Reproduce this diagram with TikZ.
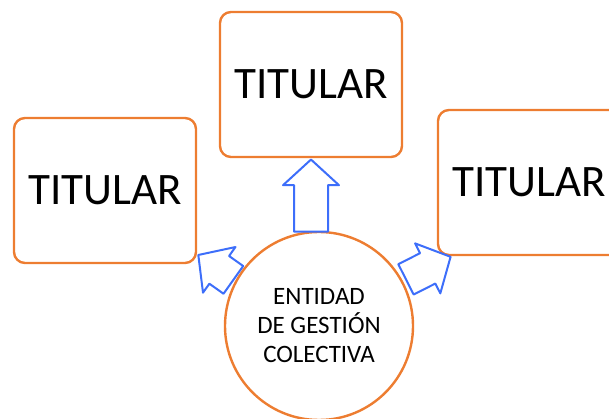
\documentclass[tikz,border=0pt]{standalone}
\usepackage{fontspec}
\setmainfont{Carlito}
\usetikzlibrary{positioning}
\usetikzlibrary{shapes.arrows}
\usetikzlibrary{calc}
\definecolor{naranja}{RGB}{237,125,49}
\definecolor{azul}{RGB}{61,110,250}

\begin{document}
\begin{tikzpicture}[x=1pt,y=1pt,line join=round,
  titular/.style={draw=naranja,line width=2.4pt,rounded corners=11pt,minimum width=182pt,minimum height=145pt,inner sep=0pt,font=\fontsize{45}{54}\selectfont},
  entidad/.style={draw=naranja,line width=2.4pt,circle,minimum size=188pt,inner sep=0pt,align=center,font=\fontsize{25}{29}\selectfont},
  flecha/.style={draw=azul,line width=2pt,fill=white,single arrow,single arrow head extend=11pt,single arrow tip angle=95,inner xsep=0pt,inner ysep=16pt,minimum width=0pt,anchor=tip}]
\clip (0,0) rectangle (609,419);
\node[entidad] (entidad) at (319,93) {ENTIDAD\\DE GESTIÓN\\COLECTIVA};
\node[titular] (arriba) at (311,334.5) {TITULAR};
\node[titular] (izquierda) at (105,228.5) {TITULAR};
\node[titular] (derecha) at (529,236.5) {TITULAR};
% flechas hacia los titulares
\node[flecha,rotate=90,minimum height=72pt] (flechaarriba) at (arriba.south) {};
\node[flecha,rotate=144.6,minimum height=43pt] (flechaizquierda) at ($(izquierda.south east)+(0,10)$) {};
\node[flecha,rotate=26.8,minimum height=50pt] (flechaderecha) at ($(derecha.south west)+(15,0)$) {};
\end{tikzpicture}
\end{document}
